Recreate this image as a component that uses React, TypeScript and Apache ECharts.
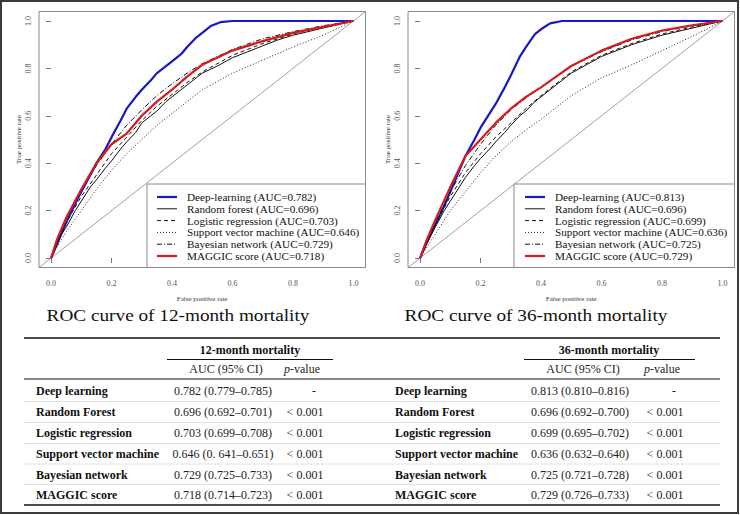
import React, { useEffect, useRef } from "react";
import * as echarts from "echarts";

const FONT = "'Liberation Serif', 'Times New Roman', Times, serif";

// tick positions for both axes
const axisTicks = [0, 0.2, 0.4, 0.6, 0.8, 1.0];
const diagonal = [[-0.04, -0.04], [1.04, 1.04]];

const models = ["Deep-learning", "Random forest", "Logistic regression", "Support vector machine", "Bayesian network", "MAGGIC score"];
const auc12 = ["0.782", "0.696", "0.703", "0.646", "0.729", "0.718"];
const auc36 = ["0.813", "0.696", "0.699", "0.636", "0.725", "0.729"];

// ---- 12-month ROC curves [FPR, TPR] ----
const dl12 = [[0,0],[0.02,0.06],[0.05,0.15],[0.08,0.23],[0.1,0.28],[0.13,0.35],[0.15,0.4],[0.18,0.46],[0.2,0.51],[0.23,0.58],[0.25,0.63],[0.28,0.68],[0.3,0.71],[0.33,0.75],[0.35,0.78],[0.38,0.81],[0.4,0.83],[0.43,0.86],[0.45,0.89],[0.48,0.93],[0.5,0.95],[0.53,0.98],[0.56,0.995],[0.6,1],[1,1]];
const rf12 = [[0,0],[0.03,0.09],[0.05,0.13],[0.08,0.2],[0.1,0.24],[0.13,0.3],[0.15,0.33],[0.18,0.38],[0.2,0.41],[0.23,0.46],[0.25,0.49],[0.28,0.53],[0.3,0.57],[0.33,0.6],[0.35,0.62],[0.38,0.66],[0.4,0.68],[0.45,0.73],[0.5,0.78],[0.55,0.81],[0.6,0.845],[0.65,0.87],[0.7,0.895],[0.75,0.92],[0.8,0.94],[0.9,0.97],[1,1]];
const lr12 = [[0,0],[0.03,0.1],[0.05,0.15],[0.1,0.26],[0.15,0.35],[0.2,0.44],[0.25,0.51],[0.3,0.58],[0.35,0.64],[0.4,0.69],[0.45,0.74],[0.5,0.785],[0.6,0.855],[0.7,0.905],[0.8,0.945],[0.9,0.975],[1,1]];
const svm12 = [[0,0],[0.03,0.07],[0.05,0.11],[0.1,0.2],[0.15,0.29],[0.2,0.37],[0.25,0.44],[0.3,0.5],[0.35,0.56],[0.4,0.61],[0.45,0.66],[0.5,0.71],[0.6,0.78],[0.7,0.835],[0.8,0.89],[0.9,0.94],[1,1]];
const bn12 = [[0,0],[0.03,0.11],[0.05,0.17],[0.1,0.29],[0.15,0.39],[0.2,0.48],[0.25,0.56],[0.3,0.625],[0.35,0.685],[0.4,0.735],[0.45,0.78],[0.5,0.82],[0.6,0.88],[0.7,0.925],[0.8,0.955],[0.9,0.98],[1,1]];
const mag12 = [[0,0],[0.02,0.08],[0.05,0.17],[0.1,0.29],[0.15,0.4],[0.2,0.48],[0.25,0.525],[0.3,0.6],[0.35,0.66],[0.4,0.71],[0.45,0.765],[0.5,0.815],[0.6,0.875],[0.7,0.915],[0.8,0.95],[0.9,0.975],[1,1]];

// ---- 36-month ROC curves [FPR, TPR] ----
const dl36 = [[0,0],[0.02,0.06],[0.05,0.14],[0.08,0.22],[0.1,0.28],[0.13,0.37],[0.15,0.43],[0.18,0.5],[0.2,0.55],[0.23,0.61],[0.25,0.65],[0.28,0.72],[0.3,0.77],[0.33,0.85],[0.35,0.89],[0.38,0.945],[0.4,0.965],[0.43,0.99],[0.47,1],[1,1]];
const rf36 = [[0,0],[0.03,0.08],[0.05,0.13],[0.08,0.2],[0.1,0.24],[0.13,0.3],[0.15,0.34],[0.18,0.39],[0.2,0.42],[0.23,0.46],[0.25,0.49],[0.28,0.53],[0.3,0.56],[0.33,0.6],[0.35,0.62],[0.38,0.66],[0.4,0.68],[0.45,0.73],[0.5,0.78],[0.55,0.815],[0.6,0.85],[0.7,0.9],[0.8,0.94],[0.9,0.97],[1,1]];
const lr36 = [[0,0],[0.03,0.09],[0.05,0.14],[0.1,0.26],[0.15,0.36],[0.2,0.44],[0.25,0.51],[0.3,0.57],[0.35,0.63],[0.4,0.685],[0.45,0.735],[0.5,0.785],[0.6,0.855],[0.7,0.905],[0.8,0.945],[0.9,0.975],[1,1]];
const svm36 = [[0,0],[0.03,0.06],[0.05,0.1],[0.1,0.2],[0.15,0.28],[0.2,0.36],[0.25,0.43],[0.3,0.49],[0.35,0.54],[0.4,0.585],[0.45,0.635],[0.5,0.685],[0.6,0.76],[0.7,0.815],[0.8,0.875],[0.9,0.935],[1,1]];
const bn36 = [[0,0],[0.03,0.09],[0.05,0.15],[0.1,0.28],[0.15,0.39],[0.2,0.48],[0.25,0.56],[0.3,0.625],[0.35,0.675],[0.4,0.72],[0.45,0.765],[0.5,0.81],[0.6,0.87],[0.7,0.92],[0.8,0.955],[0.9,0.98],[1,1]];
const mag36 = [[0,0],[0.02,0.07],[0.05,0.16],[0.1,0.3],[0.15,0.43],[0.2,0.5],[0.25,0.57],[0.3,0.63],[0.35,0.68],[0.4,0.72],[0.45,0.765],[0.5,0.81],[0.6,0.875],[0.7,0.925],[0.8,0.96],[0.9,0.982],[1,1]];

// ---- table ----
const tableModels = ["Deep learning", "Random Forest", "Logistic regression", "Support vector machine", "Bayesian network", "MAGGIC score"];
const ci12 = ["0.782 (0.779–0.785)", "0.696 (0.692–0.701)", "0.703 (0.699–0.708)", "0.646 (0. 641–0.651)", "0.729 (0.725–0.733)", "0.718 (0.714–0.723)"];
const pv12 = ["-", "< 0.001", "< 0.001", "< 0.001", "< 0.001", "< 0.001"];
const ci36 = ["0.813 (0.810–0.816)", "0.696 (0.692–0.700)", "0.699 (0.695–0.702)", "0.636 (0.632–0.640)", "0.725 (0.721–0.728)", "0.729 (0.726–0.733)"];
const pv36 = ["-", "< 0.001", "< 0.001", "< 0.001", "< 0.001", "< 0.001"];
const plotTitles = ["ROC curve of 12-month mortality", "ROC curve of 36-month mortality"];
const tableHeads = ["12-month mortality", "36-month mortality"];

const lineStyles: any[] = [
  { color: "#1818c8", width: 2.2, type: "solid", dash: null },
  { color: "#111", width: 1, type: "solid", dash: null },
  { color: "#111", width: 1, type: [4, 3], dash: [4, 3] },
  { color: "#222", width: 1, type: [1, 2], dash: [1, 2] },
  { color: "#111", width: 1, type: [5, 2, 1, 2], dash: [5, 2, 1, 2] },
  { color: "#d41c1c", width: 2.2, type: "solid", dash: null },
];

export default function App() {
  const ref = useRef<HTMLDivElement>(null);
  useEffect(() => {
    if (!ref.current) return;
    const chart = echarts.init(ref.current, undefined, { renderer: "svg" });
    const sets = [
      { curves: [dl12, rf12, lr12, svm12, bn12, mag12], auc: auc12 },
      { curves: [dl36, rf36, lr36, svm36, bn36, mag36], auc: auc36 },
    ];
    const gridLefts = [39, 408];
    const grids = gridLefts.map((l) => ({
      left: l, top: 11.5, width: 326.5, height: 256, show: true,
      borderColor: "#8a8a8a", borderWidth: 1, backgroundColor: "transparent",
    }));
    const xAxes: any[] = [];
    const yAxes: any[] = [];
    const series: any[] = [];
    const graphics: any[] = [];
    const legendBoxX = [147, 514];
    const legendLineX = [157, 525];

    sets.forEach((s, g) => {
      xAxes.push({
        type: "value", gridIndex: g, min: -0.04, max: 1.04,
        axisLine: { show: false }, splitLine: { show: false },
        axisTick: { show: true, length: 5, customValues: axisTicks, lineStyle: { color: "#777" } },
        axisLabel: { customValues: axisTicks, formatter: (v: number) => v.toFixed(1), fontSize: 8, color: "#555", fontFamily: FONT, margin: 12 },
        name: "False positive rate", nameLocation: "middle", nameGap: 28,
        nameTextStyle: { fontSize: 7, color: "#333", fontFamily: FONT },
      });
      yAxes.push({
        type: "value", gridIndex: g, min: -0.04, max: 1.04,
        axisLine: { show: false }, splitLine: { show: false },
        axisTick: { show: true, length: 5, customValues: axisTicks, lineStyle: { color: "#777" } },
        axisLabel: { customValues: axisTicks, formatter: (v: number) => v.toFixed(1), fontSize: 8, color: "#555", fontFamily: FONT, margin: 7, rotate: 90 },
        name: "True positive rate", nameLocation: "middle", nameGap: 17,
        nameTextStyle: { fontSize: 7, color: "#333", fontFamily: FONT },
      });
      series.push({
        type: "line", xAxisIndex: g, yAxisIndex: g, data: diagonal, symbol: "none",
        lineStyle: { color: "#888", width: 0.8 }, silent: true, z: 1,
      });
      // legend box
      graphics.push({ type: "rect", shape: { x: legendBoxX[g], y: 184, width: gridLefts[g] + 326.5 - legendBoxX[g], height: 267.5 - 184 }, style: { fill: "#fff", stroke: "#8a8a8a", lineWidth: 1 }, z: 10 });
      s.curves.forEach((c, i) => {
        const name = `${models[i]} (AUC=${s.auc[i]})`;
        const ls = lineStyles[i];
        series.push({
          type: "line", name, xAxisIndex: g, yAxisIndex: g, data: c, symbol: "none",
          lineStyle: { color: ls.color, width: ls.width, type: ls.type }, z: 2,
        });
        const y = 197 + i * 11.8;
        const lx = legendLineX[g];
        graphics.push({ type: "line", shape: { x1: lx, y1: y, x2: lx + 20, y2: y }, style: { stroke: ls.color, lineWidth: ls.width, lineDash: ls.dash }, z: 11 });
        graphics.push({ type: "text", x: lx + 30, y, style: { text: name, fontFamily: FONT, fontSize: 11.2, fill: "#111", textAlign: "left", textVerticalAlign: "middle" }, z: 11 });
      });
    });

    // outer frame
    graphics.push({ type: "rect", shape: { x: 1, y: 1, width: 737, height: 512 }, style: { fill: "none", stroke: "#3a3a3a", lineWidth: 2 }, z: 50 });
    // plot titles
    [178, 536].forEach((x, g) => {
      graphics.push({ type: "text", x, y: 315, scaleX: 1.1, style: { text: plotTitles[g], fontFamily: FONT, fontSize: 17.5, fill: "#111", textAlign: "center", textVerticalAlign: "middle" } });
    });
    // table lines
    const hline = (y: number, x1: number, x2: number, w: number, c: string) =>
      graphics.push({ type: "line", shape: { x1, y1: y, x2, y2: y }, style: { stroke: c, lineWidth: w } });
    hline(338, 24, 720, 1.5, "#111");
    hline(359.5, 167, 333, 1, "#111");
    hline(359.5, 524, 695, 1, "#111");
    hline(379, 24, 720, 1, "#111");
    [401.5, 422.5, 443.5, 464, 484.5].forEach((y) => hline(y, 24, 720, 1, "#e2e2e2"));
    hline(505, 24, 720, 1.5, "#111");

    const txt = (x: number, y: number, text: string, align: string, bold = false, extra: any = {}) =>
      graphics.push({ type: "text", x, y, style: { text, fontFamily: FONT, fontSize: 12, fontWeight: bold ? "bold" : "normal", fill: bold ? "#111" : "#222", textAlign: align, textVerticalAlign: "middle", ...extra } });

    const cols = [
      { label: 36, auc: 223, p: 305, head: 250, ci: ci12, pv: pv12 },
      { label: 395, auc: 580, p: 665, head: 609, ci: ci36, pv: pv36 },
    ];
    const rowY = [391, 412, 433, 454, 474.5, 494.5];
    cols.forEach((c, g) => {
      txt(c.head, 350, tableHeads[g], "center", true);
      txt(c.auc + 3, 368.5, "AUC (95% CI)", "center");
      txt(c.p - 3, 368.5, "{i|p}-value", "center", false, { rich: { i: { fontStyle: "italic", fontFamily: FONT, fontSize: 12, fill: "#222" } } });
      rowY.forEach((y, i) => {
        txt(c.label, y, tableModels[i], "left", true);
        txt(c.auc, y, c.ci[i], "center");
        txt(c.pv[i] === "-" ? c.p + 9 : c.p, y, c.pv[i], "center");
      });
    });

    chart.setOption({
      animation: false,
      backgroundColor: "#fff",
      grid: grids,
      xAxis: xAxes,
      yAxis: yAxes,
      series,
      graphic: graphics,
    });
    return () => chart.dispose();
  }, []);
  return <div ref={ref} style={{ position: "absolute", left: 0, top: 0, width: 740, height: 515 }} />;
}
